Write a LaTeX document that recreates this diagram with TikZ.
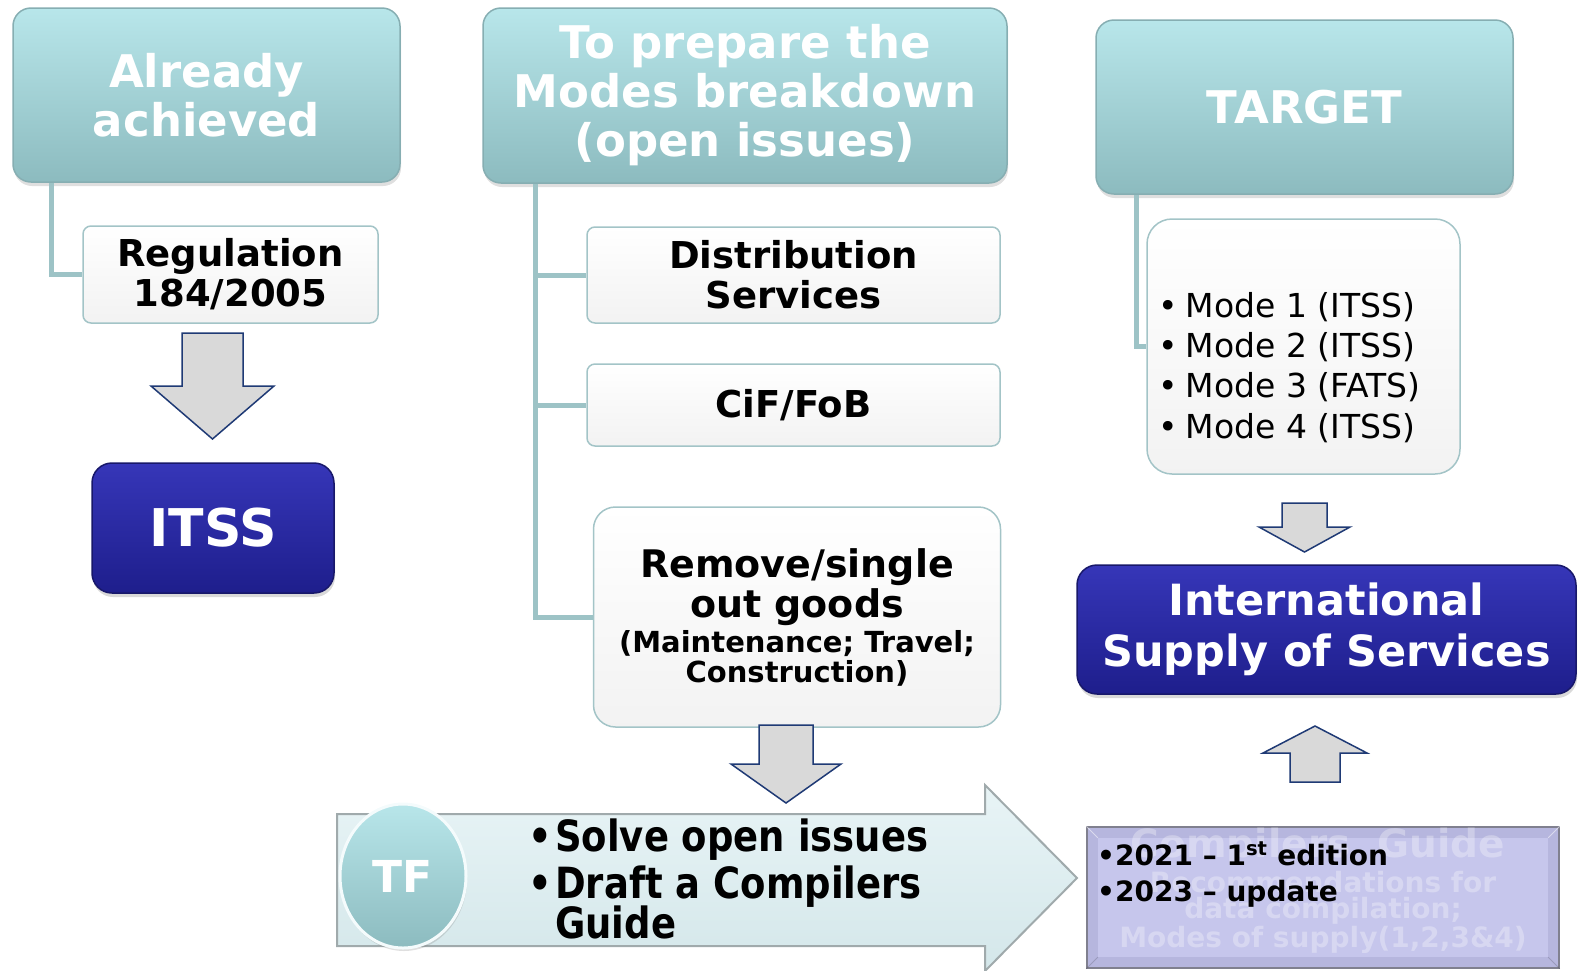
\documentclass[tikz,border=0pt]{standalone}
\usepackage{fontspec}
\setmainfont{DejaVu Sans}
\newfontfamily\narrowfont[FakeStretch=0.86]{DejaVu Sans}
\usetikzlibrary{shapes.geometric,shadows}
\definecolor{tealtop}{HTML}{B8E6EA}
\definecolor{tealbot}{HTML}{8CBBBF}
\definecolor{tealedge}{HTML}{86AEB2}
\definecolor{connline}{HTML}{9DC3C6}
\definecolor{bluetop}{HTML}{3636B8}
\definecolor{bluebot}{HTML}{1E1E8C}
\definecolor{blueedge}{HTML}{18186A}
\definecolor{wedge}{HTML}{A3C4C7}
\definecolor{arrfill}{HTML}{D9D9D9}
\definecolor{arredge}{HTML}{1F3A75}
\definecolor{bigtop}{HTML}{E8F4F6}
\definecolor{bigbot}{HTML}{D4E7EA}
\definecolor{bigedge}{HTML}{A0AAAC}
\definecolor{cgside}{HTML}{B6B6DE}
\definecolor{cgface}{HTML}{C6C6EC}
\definecolor{cgedge}{HTML}{80808F}
\begin{document}
\begin{tikzpicture}[x=1pt,y=-1pt,
  head/.style={draw=tealedge, line width=1.5, rounded corners=18pt, top color=tealtop, bottom color=tealbot,
    text=white, align=center, inner sep=0, font=\bfseries\fontsize{45}{49}\selectfont,
    drop shadow={shadow xshift=1pt, shadow yshift=-4pt, opacity=.25}},
  wbox/.style={draw=wedge, line width=1.5, rounded corners=8pt, top color=white, bottom color=white!95!black,
    align=center, inner sep=0, font=\bfseries\fontsize{37}{40}\selectfont},
  bluebox/.style={draw=blueedge, line width=1.5, rounded corners=20pt, top color=bluetop, bottom color=bluebot,
    text=white, align=center, inner sep=0,
    drop shadow={shadow xshift=1pt, shadow yshift=-4pt, opacity=.3}},
  conn/.style={draw=connline, line width=5},
  grayarrow/.style={draw=arredge, line width=1.5, fill=arrfill, line join=miter},
  arrtext/.style={anchor=base west, inner sep=0, font=\narrowfont\bfseries\fontsize{43}{44}\selectfont},
  modeitem/.style={anchor=base west, inner sep=0, font=\fontsize{33}{36}\selectfont},
  cgitem/.style={anchor=base west, inner sep=0, font=\bfseries\fontsize{28}{32}\selectfont},
  ghost/.style={anchor=base, inner sep=0, text=white, text opacity=.3, font=\bfseries\fontsize{28}{30}\selectfont}]
\useasboundingbox (0,0) rectangle (1579,970);

% left column
\node[head, minimum width=387, minimum height=174] (ach) at (206.5,95) {Already\\achieved};
\node[wbox, minimum width=295, minimum height=97] (reg) at (230.5,274.5) {Regulation\\184/2005};
\draw[conn] ([xshift=39pt]ach.south west) |- (reg);
\draw[grayarrow] (182,333) -- (243,333) -- (243,386) -- (274,386) -- (212.5,439) -- (151,386) -- (182,386) -- cycle;
\node[bluebox, minimum width=242, minimum height=130, font=\bfseries\fontsize{52}{56}\selectfont] (itss) at (213,528) {ITSS};

% middle column
\node[head, minimum width=524, minimum height=175] (prep) at (745,95.5) {To prepare the\\Modes breakdown\\(open issues)};
\node[wbox, minimum width=413, minimum height=96] (dist) at (793.5,275) {Distribution\\Services};
\node[wbox, minimum width=413, minimum height=82] (cif) at (793.5,405) {CiF/FoB};
\node[wbox, rounded corners=22pt, minimum width=407, minimum height=220] (rem) at (797,617)
  {\fontsize{38}{40}\selectfont Remove/single\\\fontsize{38}{40}\selectfont out goods\\[-5pt]{\fontsize{29}{30}\selectfont(Maintenance; Travel;}\\[-10pt]{\fontsize{29}{30}\selectfont Construction)}};
\draw[conn] ([xshift=53pt]prep.south west) |- (dist);
\draw[conn] ([xshift=53pt]prep.south west) |- (cif);
\draw[conn] ([xshift=53pt]prep.south west) |- (rem);
\draw[grayarrow] (759,725) -- (813,725) -- (813,764) -- (841,764) -- (786,803) -- (731,764) -- (759,764) -- cycle;

% task force arrow
\draw[draw=bigedge, line width=2, top color=bigtop, bottom color=bigbot] (337,814) -- (985,814) -- (985,785) -- (1077,878) -- (985,971) -- (985,946) -- (337,946) -- cycle;
\node[ellipse, draw=white!85!tealtop, line width=3, top color=tealtop, bottom color=tealbot, minimum width=126, minimum height=144,
  inner sep=0, text=white, font=\bfseries\fontsize{44}{48}\selectfont,
  drop shadow={shadow xshift=1pt, shadow yshift=-3pt, opacity=.25}] (tf) at (403,876) {TF};
\node[arrtext] (solve) at (555,851) {\llap{•\hspace{3pt}}Solve open issues};
\node[arrtext] (draft) at (555,898) {\llap{•\hspace{3pt}}Draft a Compilers};
\node[arrtext] (guide) at (555,938) {Guide};

% right column
\node[head, minimum width=417, minimum height=174] (target) at (1304.5,107) {TARGET};
\node[wbox, rounded corners=25pt, minimum width=313, minimum height=255] (modes) at (1303.5,346.5) {};
\draw[conn] ([xshift=41pt]target.south west) |- (modes);
\node[modeitem] (m1) at (1158,317) {•\hspace{8pt}Mode 1 (ITSS)};
\node[modeitem] (m2) at (1158,357) {•\hspace{8pt}Mode 2 (ITSS)};
\node[modeitem] (m3) at (1158,397) {•\hspace{8pt}Mode 3 (FATS)};
\node[modeitem] (m4) at (1158,438) {•\hspace{8pt}Mode 4 (ITSS)};
\draw[grayarrow] (1282,503) -- (1327,503) -- (1327,527) -- (1350,527) -- (1304.5,552) -- (1259,527) -- (1282,527) -- cycle;
\node[bluebox, minimum width=499, minimum height=129, font=\bfseries\fontsize{43}{51}\selectfont] (intl) at (1326.5,629.5) {International\\Supply of Services};
\draw[grayarrow] (1290,782) -- (1340,782) -- (1340,753) -- (1367,753) -- (1315,726) -- (1263,753) -- (1290,753) -- cycle;

% compilers guide
\node[draw=cgedge, line width=1.5, fill=cgside, minimum width=472, minimum height=141, inner sep=0] (cg) at (1323,897.5) {};
\node[fill=cgface, minimum width=450, minimum height=119, inner sep=0] (cgin) at (cg.center) {};
\draw[white, opacity=.5, line width=1] (cg.north west) -- (cgin.north west);
\draw[white, opacity=.5, line width=1] (cg.north east) -- (cgin.north east);
\draw[black, opacity=.15, line width=1] (cg.south west) -- (cgin.south west);
\draw[black, opacity=.15, line width=1] (cg.south east) -- (cgin.south east);
\node[ghost, font=\bfseries\fontsize{39}{40}\selectfont] (g1) at (1318,857) {Compilers\ \ Guide};
\node[ghost] (g2) at (1323,892) {Recommendations for};
\node[ghost] (g3) at (1323,918) {data compilation;};
\node[ghost] (g4) at (1323,947) {Modes of supply(1,2,3\&4)};
\node[cgitem] (y1) at (1097,865) {•2021 – 1\textsuperscript{st} edition};
\node[cgitem] (y2) at (1097,901) {•2023 – update};
\end{tikzpicture}
\end{document}
